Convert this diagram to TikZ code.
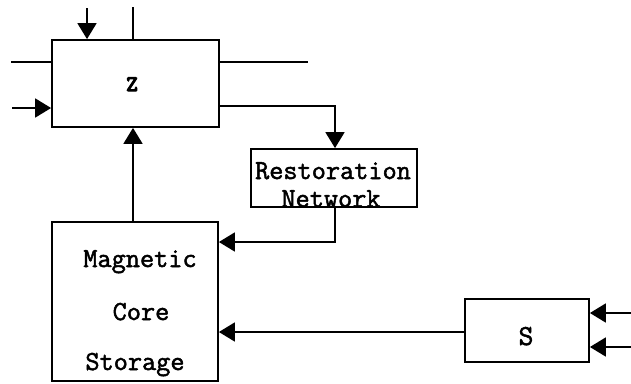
\documentclass[tikz,border=0pt]{standalone}
\usepackage{fontspec}
\newfontfamily\tyfont{Latin Modern Mono}[FakeBold=1.8]
\newfontfamily\tyboldfont{Latin Modern Mono}[FakeBold=6]
\usetikzlibrary{arrows.meta}
\begin{document}
\begin{tikzpicture}[x=1pt,y=-1pt,
  line width=1.8pt,
  arr/.style={-{Triangle[length=16pt,width=19pt]}},
  blk/.style={draw,rectangle,inner sep=0pt,line width=1.8pt},
  lbl/.style={inner sep=0pt,font=\fontsize{27.5}{30}\tyfont},
  ]
\useasboundingbox (0,0) rectangle (631,383);
% blocks
\node[blk,minimum width=167pt,minimum height=87pt] (Z) at (135.5,83.5) {};
\node[lbl,anchor=base,font=\fontsize{22}{26}\tyboldfont] (zt) at (132,91) {Z};
\node[blk,minimum width=166pt,minimum height=58pt] (R) at (334,178) {};
\node[lbl,anchor=base] (rt1) at (333,179) {Restoration};
\node[lbl,anchor=base] (rt2) at (331,207) {Network};
\node[blk,minimum width=166pt,minimum height=159pt] (M) at (135,301.5) {};
\node[lbl,anchor=base] (mt1) at (140,267) {Magnetic};
\node[lbl,anchor=base] (mt2) at (141,320) {Core};
\node[lbl,anchor=base] (mt3) at (135,370) {Storage};
\node[blk,minimum width=124pt,minimum height=63pt] (S) at (527,330.5) {};
\node[lbl,anchor=base,font=\fontsize{29}{32}\tyfont] (st) at (526,345) {S};
% free ends
\coordinate (t1) at (87,8);
\coordinate (t2) at (133,7);
\coordinate (l1) at (11,62);
\coordinate (l2) at (12,108);
\coordinate (r1) at (308,62);
\coordinate (k1) at (335,106);
\coordinate (k2) at (335,242);
\coordinate (s1) at (631,313);
\coordinate (s2) at (631,347);
% connectors
\draw[arr] (t1) -- (t1 |- Z.north);
\draw (t2) -- (t2 |- Z.north);
\draw (l1) -- (l1 -| Z.west);
\draw[arr] (l2) -- (l2 -| Z.west);
\draw (r1 -| Z.east) -- (r1);
\draw[arr] (k1 -| Z.east) -- (k1) -- (k1 |- R.north);
\draw[arr] (k2 |- R.south) -- (k2) -- (k2 -| M.east);
\draw[arr] (M.north -| t2) -- (Z.south -| t2);
\draw[arr] (S.west |- 0,332) -- (M.east |- 0,332);
\draw[arr] (s1) -- (s1 -| S.east);
\draw[arr] (s2) -- (s2 -| S.east);
\end{tikzpicture}
\end{document}
